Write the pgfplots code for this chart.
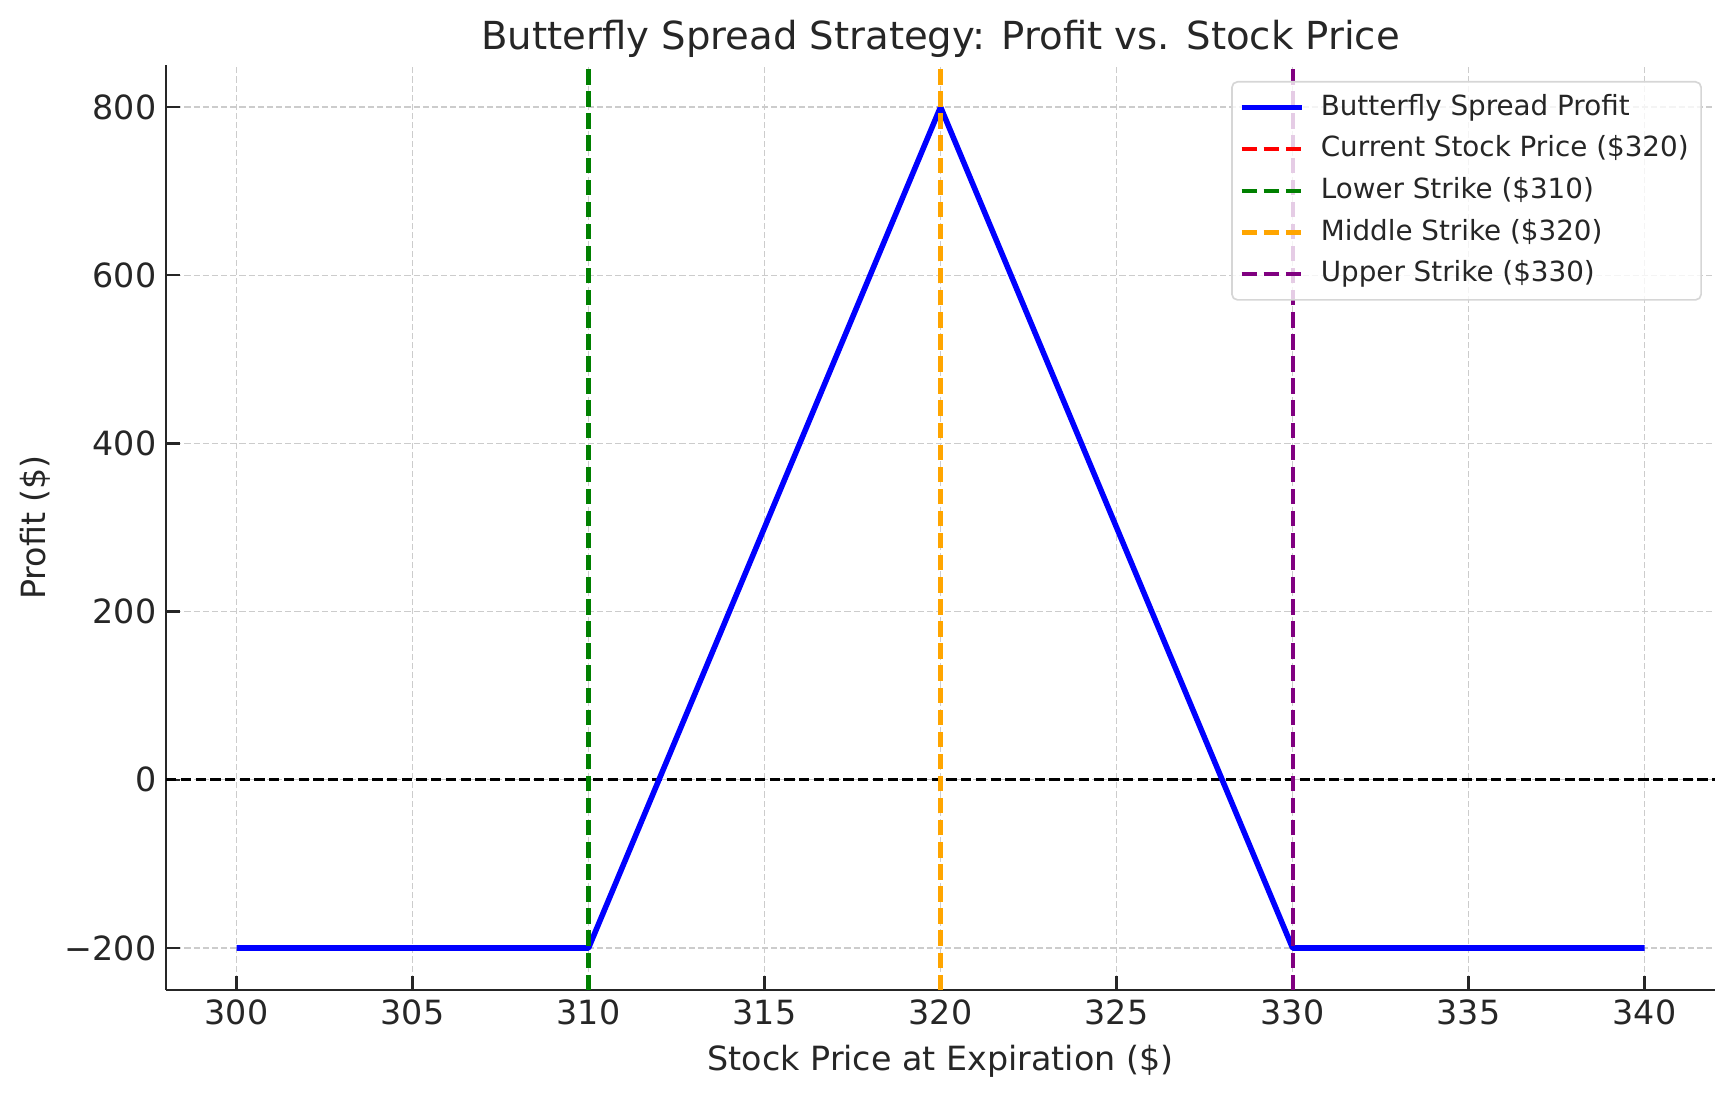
\documentclass[border=0pt]{standalone}
\usepackage{pgfplots}
\pgfplotsset{compat=1.18}
\usepackage{fontspec}
\setmainfont{DejaVu Sans}
\definecolor{txt}{HTML}{262626}
\definecolor{gridc}{HTML}{CCCCCC}
\definecolor{legc}{HTML}{D6D6D6}
\definecolor{mplgreen}{RGB}{0,128,0}
\definecolor{mplorange}{RGB}{255,165,0}
\definecolor{mplpurple}{RGB}{128,0,128}
\begin{document}
\begin{tikzpicture}
\begin{axis}[
  name=ax,
  scale only axis,
  width=557.6pt, height=333pt,
  xmin=298, xmax=342, ymin=-250, ymax=850,
  axis lines*=left,
  axis line style={line width=0.8pt, color=txt},
  xtick={300,305,...,340},
  ytick={-200,0,200,400,600,800},
  yticklabels={−200,0,200,400,600,800},
  /pgf/number format/assume math mode=true,
  /pgf/number format/set thousands separator={},
  tick style={line width=0.8pt, color=txt},
  major tick length=5pt,
  tick align=inside,
  ticklabel style={font=\fontsize{12}{14}\selectfont, text=txt},
  grid=major,
  grid style={dash pattern=on 2.2pt off 1.1pt, color=gridc, line width=0.5pt},
  title={Butterfly Spread Strategy: Profit vs. Stock Price},
  title style={font=\fontsize{13.9}{17}\selectfont, text=txt, at={(0.5,1)}, anchor=base, yshift=-0.6pt},
  xlabel={Stock Price at Expiration (\$)},
  xlabel style={font=\fontsize{12}{14}\selectfont, text=txt, at={(0.5,0)}, anchor=base, yshift=-28.8pt},
  ylabel={Profit (\$)},
  ylabel style={font=\fontsize{12}{14}\selectfont, text=txt, at={(-0.0843,0.5)}, anchor=center},
  legend cell align=left,
  legend style={
    at={(0.9916,0.9827)}, anchor=north east,
    font=\fontsize{10}{12}\selectfont, text=txt,
    draw=legc, line width=0.6pt, rounded corners=2pt,
    fill=white, fill opacity=0.8, text opacity=1,
    inner sep=2.5pt, row sep=1.5pt,
    nodes={inner sep=2pt, text height=7.5pt, text depth=2pt},
  },
  legend image code/.code={\draw[#1, opacity=1] (0pt,0pt) -- (21.6pt,0pt); \path (25.5pt,0pt);},
]
\addplot[black, line width=1pt, dash pattern=on 3.7pt off 1.6pt, forget plot] coordinates {(298,0) (342,0)};
\addplot[blue, line width=2pt, line join=round] coordinates {(300,-200) (310,-200) (320,800) (330,-200) (340,-200)};
\addlegendentry{Butterfly Spread Profit}
\addplot[red, line width=1.5pt, dash pattern=on 5.55pt off 2.4pt] coordinates {(320,-250) (320,850)};
\addlegendentry{Current Stock Price (\$320)}
\addplot[mplgreen, line width=1.5pt, dash pattern=on 5.55pt off 2.4pt] coordinates {(310,-250) (310,850)};
\addlegendentry{Lower Strike (\$310)}
\addplot[mplorange, line width=1.5pt, dash pattern=on 5.55pt off 2.4pt] coordinates {(320,-250) (320,850)};
\addlegendentry{Middle Strike (\$320)}
\addplot[mplpurple, line width=1.5pt, dash pattern=on 5.55pt off 2.4pt] coordinates {(330,-250) (330,850)};
\addlegendentry{Upper Strike (\$330)}
\end{axis}
\pgfresetboundingbox
\path (ax.south west) ++(-59.8pt,-38.5pt) coordinate (bbA);
\path (ax.north east) ++(7.2pt,23.4pt) coordinate (bbB);
\useasboundingbox (bbA) rectangle (bbB);
\end{tikzpicture}
\end{document}
